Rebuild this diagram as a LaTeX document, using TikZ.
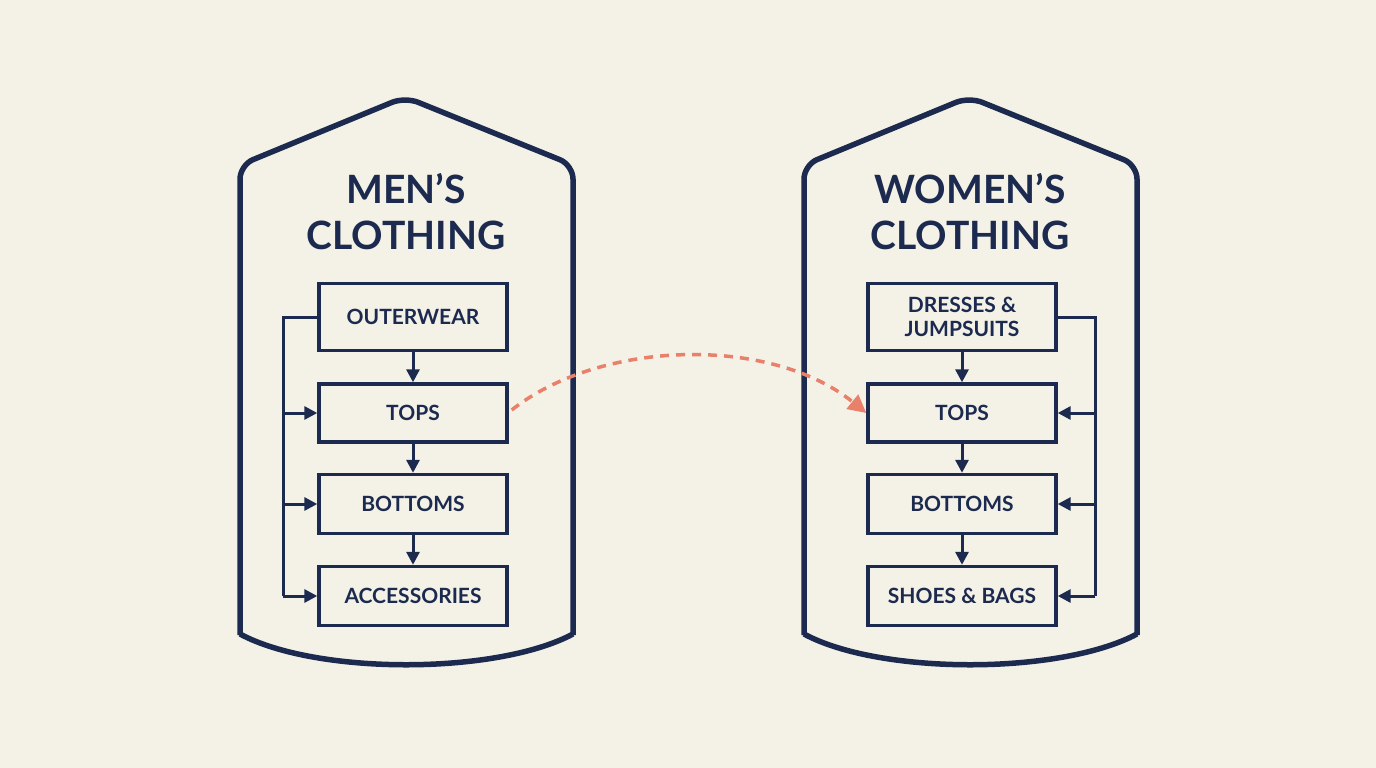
\documentclass[tikz,border=0pt]{standalone}
\usepackage{fontspec}
\setmainfont{Lato}
\usetikzlibrary{arrows.meta}
\definecolor{navy}{HTML}{1B2A4E}
\definecolor{bg}{HTML}{F4F1E6}
\definecolor{salmon}{HTML}{E8806A}
\begin{document}
\begin{tikzpicture}[x=1pt,y=-1pt,
  shield/.style={draw=navy,line width=5.5pt,line join=round},
  box/.style={draw=navy,line width=3.4pt,minimum width=188pt,inner sep=0pt,font=\fontsize{21}{24}\selectfont\bfseries,text=navy,align=center},
  title/.style={font=\fontsize{39}{46}\selectfont\bfseries,text=navy,align=center},
  conn/.style={draw=navy,line width=3pt,-{Triangle[length=13pt,width=13pt]}},
  bus/.style={draw=navy,line width=3pt}]
\fill[bg] (0,0) rectangle (1376,768);
\useasboundingbox (0,0) rectangle (1376,768);
\foreach \cx in {406,970}{
 \draw[shield,rounded corners=14pt] (\cx-166,635) -- (\cx-166,165) -- (\cx-1,97) -- (\cx+167,165) -- (\cx+167,635);
 \draw[shield] (\cx-166,634) .. controls (\cx-90,675) and (\cx+90,675) .. (\cx+167,634);
}
\node[title] (t1) at (406,212) {MEN’S\\CLOTHING};
\node[title] (t2) at (970,212) {WOMEN’S\\CLOTHING};
\node[box,minimum height=67pt] (a1) at (413,317) {OUTERWEAR};
\node[box,minimum height=58pt] (a2) at (413,413) {TOPS};
\node[box,minimum height=59pt] (a3) at (413,504) {BOTTOMS};
\node[box,minimum height=59pt] (a4) at (413,596) {ACCESSORIES};
\node[box,minimum height=67pt,font=\fontsize{21}{24}\selectfont\bfseries] (b1) at (962,317) {DRESSES \&\\JUMPSUITS};
\node[box,minimum height=58pt] (b2) at (962,413) {TOPS};
\node[box,minimum height=59pt] (b3) at (962,504) {BOTTOMS};
\node[box,minimum height=59pt] (b4) at (962,596) {SHOES \& BAGS};
\coordinate (L1) at (283,317); \coordinate (L4) at (283,596);
\coordinate (R1) at (1095,317); \coordinate (R4) at (1095,596);
\draw[bus] (a1.west) -- (L1) -- (L4);
\draw[bus] (b1.east) -- (R1) -- (R4);
\foreach \y/\n in {413/a2,504/a3,596/a4}{\draw[conn] (283,\y) -- (\n.west);}
\foreach \y/\n in {413/b2,504/b3,596/b4}{\draw[conn] (1095,\y) -- (\n.east);}
\draw[conn] (a1) -- (a2); \draw[conn] (a2) -- (a3); \draw[conn] (a3) -- (a4);
\draw[conn] (b1) -- (b2); \draw[conn] (b2) -- (b3); \draw[conn] (b3) -- (b4);
\draw[salmon,line width=3.5pt,dash pattern=on 9pt off 7pt,-{Triangle[length=18pt,width=18pt]}] (a2.east) ++(3,-3) .. controls (600,340) and (770,335) .. (b2.west);
\end{tikzpicture}
\end{document}
